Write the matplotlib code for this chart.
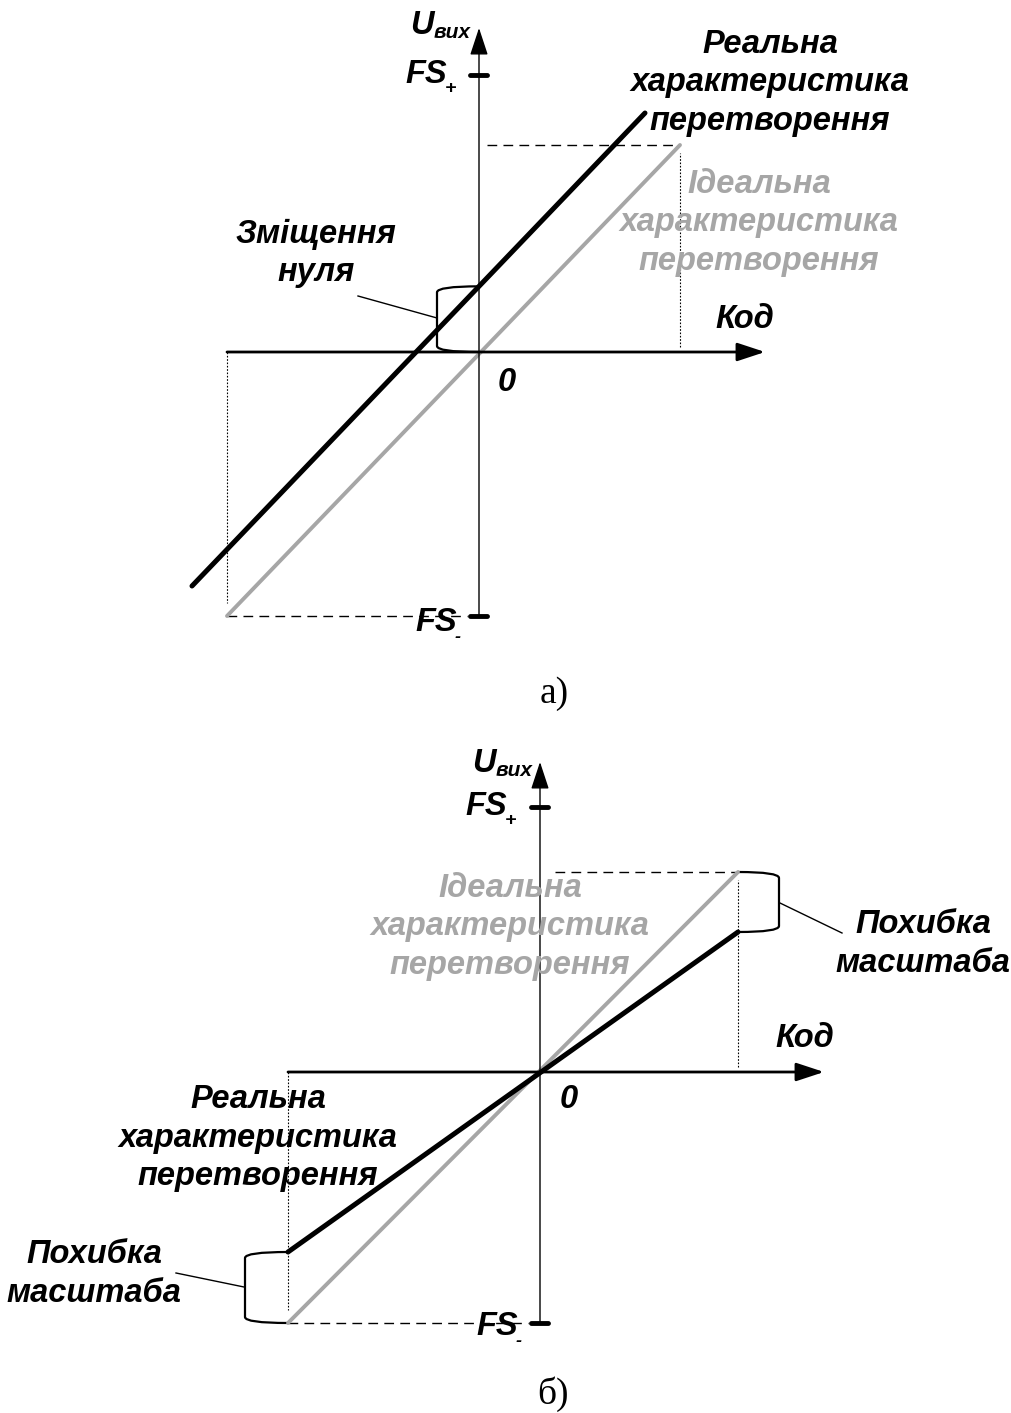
"""Two sketches of DAC transfer errors: zero offset (a) and gain error (b).

Each sketch sits on its own transparent axes that spans the whole figure, so
both share one scale (1 unit = 100 px) with the origin at the axis crossing.
"""

import matplotlib
matplotlib.use("Agg")
import matplotlib.pyplot as plt
import numpy as np
from matplotlib.patches import PathPatch
from matplotlib.path import Path

W, H, DPI = 1012, 1413, 100
UNIT      = 100                    # px per data unit
GRAY      = "#a6a6a6"
SANS      = "Liberation Sans"
SERIF     = "Liberation Serif"

# --- sketch a): zero offset -------------------------------------------------
A_CODE_IDEAL = [-2.52, 2.01]
A_OUT_IDEAL  = [-2.64, 2.07]
A_CODE_REAL  = [-2.87, 1.66]
A_OUT_REAL   = [-2.34, 2.39]
A_FS_PLUS    = 2.77
A_FS_MINUS   = -2.64

# --- sketch б): gain error --------------------------------------------------
B_CODE       = [-2.52, 1.98]
B_OUT_IDEAL  = [-2.51, 2.00]
B_OUT_REAL   = [-1.80, 1.40]
B_FS_PLUS    = 2.65
B_FS_MINUS   = -2.51

# --- labels -----------------------------------------------------------------
LBL_REAL   = ["Реальна", "характеристика", "перетворення"]
LBL_IDEAL  = ["Ідеальна", "характеристика", "перетворення"]
LBL_OFFSET = ["Зміщення", "нуля"]
LBL_GAIN   = ["Похибка", "масштаба"]
LBL_CODE   = "Код"
LBL_ZERO   = "0"
CAPTIONS   = ["а)", "б)"]


def make_axes(fig, ox, oy):
    """Full-figure transparent axes with data origin at pixel (ox, oy)."""
    ax = fig.add_axes([0, 0, 1, 1])
    ax.set_xlim(-ox / UNIT, (W - ox) / UNIT)
    ax.set_ylim(-(H - oy) / UNIT, oy / UNIT)
    ax.axis("off")
    ax.patch.set_alpha(0)
    return ax


def label(ax, x, y0, lines, color="black", size=23.5, step=0.385):
    """Centered bold-italic block, one text per line, y0 = first baseline."""
    for i, line in enumerate(lines):
        ax.text(x, y0 - i * step, line, ha="center", va="baseline",
                fontsize=size, fontweight="bold", fontstyle="italic",
                family=SANS, color=color)


def bi(ax, x, y, s, size=23.5, **kw):
    ax.text(x, y, s, fontsize=size, fontweight="bold", fontstyle="italic",
            family=SANS, **kw)


def cross(ax, x_left, x_tip, y_bot, y_tip):
    head = "-|>,head_length=0.85,head_width=0.28"
    ax.annotate("", xy=(x_tip, 0), xytext=(x_left, 0),
                arrowprops=dict(arrowstyle=head, mutation_scale=20, lw=2.0,
                                color="black", shrinkA=0, shrinkB=0))
    ax.annotate("", xy=(0, y_tip), xytext=(0, y_bot),
                arrowprops=dict(arrowstyle=head, mutation_scale=20, lw=1.0,
                                color="black", shrinkA=0, shrinkB=0))


def fs_marks(ax, fs_plus, fs_minus, plus_xy, minus_xy):
    for fs in (fs_plus, fs_minus):
        ax.plot([-0.085, 0.085], [fs, fs], color="black", lw=3.5,
                solid_capstyle="round")
    bi(ax, plus_xy[0], plus_xy[1], "FS", ha="left", va="baseline")
    bi(ax, plus_xy[0] + 0.40, plus_xy[1] - 0.05, "+", size=14,
       ha="left", va="center")
    bi(ax, minus_xy[0], minus_xy[1], "FS", ha="left", va="baseline")
    bi(ax, minus_xy[0] + 0.40, minus_xy[1] - 0.06, "-", size=13,
       ha="left", va="center")


def u_label(ax, x, y):
    bi(ax, x, y, "U", ha="left", va="baseline")
    bi(ax, x + 0.24, y - 0.04, "вих", size=15, ha="left", va="baseline")


def brace(ax, x_pt, y_top, y_bot, x_bar, r=0.06):
    """Bracket with rounded corners measuring y_top..y_bot at x_pt."""
    sgn = 1 if y_top > y_bot else -1
    verts = [(x_pt, y_top), (x_bar, y_top), (x_bar, y_top - sgn * r),
             (x_bar, y_bot + sgn * r), (x_bar, y_bot), (x_pt, y_bot)]
    codes = [Path.MOVETO, Path.CURVE3, Path.CURVE3,
             Path.LINETO, Path.CURVE3, Path.CURVE3]
    ax.add_patch(PathPatch(Path(verts, codes), fill=False, lw=1.6,
                           edgecolor="black", capstyle="round"))


def guides(ax, code, out_top, fs_minus, x_dash0):
    dash = dict(color="black", lw=1.0, dashes=(7, 4.5))
    dot = dict(color="black", lw=0.8, dashes=(1.5, 1.5))
    ax.plot([x_dash0, code[1]], [out_top, out_top], **dash)
    ax.plot([code[0], -0.12], [fs_minus, fs_minus], **dash)
    ax.plot([code[1], code[1]], [0.05, out_top - 0.08], **dot)
    ax.plot([code[0], code[0]], [0, fs_minus + 0.13], **dot)


def sketch_a(fig):
    ax = make_axes(fig, 479, 352)
    guides(ax, A_CODE_IDEAL, A_OUT_IDEAL[1], A_FS_MINUS, 0.08)
    cross(ax, A_CODE_IDEAL[0], 2.86, A_FS_MINUS, 3.24)
    ax.plot(A_CODE_IDEAL, A_OUT_IDEAL, color=GRAY, lw=2.8,
            solid_capstyle="round")
    ax.plot(A_CODE_REAL, A_OUT_REAL, color="black", lw=3.6,
            solid_capstyle="round")
    fs_marks(ax, A_FS_PLUS, A_FS_MINUS, (-0.74, 2.69), (-0.64, -2.79))
    u_label(ax, -0.69, 3.18)

    offset = np.interp(0, A_CODE_REAL, A_OUT_REAL)
    brace(ax, 0, offset, 0, -0.42)
    ax.plot([-1.21, -0.42], [0.56, 0.34], color="black", lw=1.0)

    label(ax, 2.91, 2.99, LBL_REAL)
    label(ax, 2.80, 1.59, LBL_IDEAL, color=GRAY)
    label(ax, -1.63, 1.09, LBL_OFFSET)
    bi(ax, 2.66, 0.24, LBL_CODE, ha="center", va="baseline")
    bi(ax, 0.28, -0.39, LBL_ZERO, ha="center", va="baseline")
    ax.text(0.75, -3.51, CAPTIONS[0], ha="center", va="baseline",
            fontsize=27, family=SERIF)


def sketch_b(fig):
    ax = make_axes(fig, 540, 1072)
    guides(ax, B_CODE, B_OUT_IDEAL[1], B_FS_MINUS, 0.15)
    cross(ax, B_CODE[0], 2.84, B_FS_MINUS, 3.10)
    ax.plot(B_CODE, B_OUT_IDEAL, color=GRAY, lw=2.8, solid_capstyle="round")
    ax.plot(B_CODE, B_OUT_REAL, color="black", lw=3.6,
            solid_capstyle="round")
    fs_marks(ax, B_FS_PLUS, B_FS_MINUS, (-0.75, 2.57), (-0.64, -2.63))
    u_label(ax, -0.68, 3.00)

    brace(ax, B_CODE[1], B_OUT_IDEAL[1], B_OUT_REAL[1], B_CODE[1] + 0.41)
    ax.plot([B_CODE[1] + 0.42, 3.02], [1.69, 1.39], color="black", lw=1.0)
    brace(ax, B_CODE[0], B_OUT_REAL[0], B_OUT_IDEAL[0], B_CODE[0] - 0.43)
    ax.plot([-3.64, B_CODE[0] - 0.44], [-2.01, -2.15], color="black", lw=1.0)

    label(ax, -0.30, 1.75, LBL_IDEAL, color=GRAY)
    label(ax, 3.83, 1.39, LBL_GAIN)
    label(ax, -2.82, -0.36, LBL_REAL)
    label(ax, -4.46, -1.91, LBL_GAIN)
    bi(ax, 2.65, 0.25, LBL_CODE, ha="center", va="baseline")
    bi(ax, 0.29, -0.36, LBL_ZERO, ha="center", va="baseline")
    ax.text(0.13, -3.32, CAPTIONS[1], ha="center", va="baseline",
            fontsize=27, family=SERIF)


def main() -> None:
    fig = plt.figure(figsize=(W / DPI, H / DPI), dpi=DPI)
    fig.patch.set_facecolor("white")
    sketch_a(fig)
    sketch_b(fig)
    fig.savefig("out.png", dpi=DPI, facecolor="white")
    plt.close(fig)


if __name__ == "__main__":
    main()
